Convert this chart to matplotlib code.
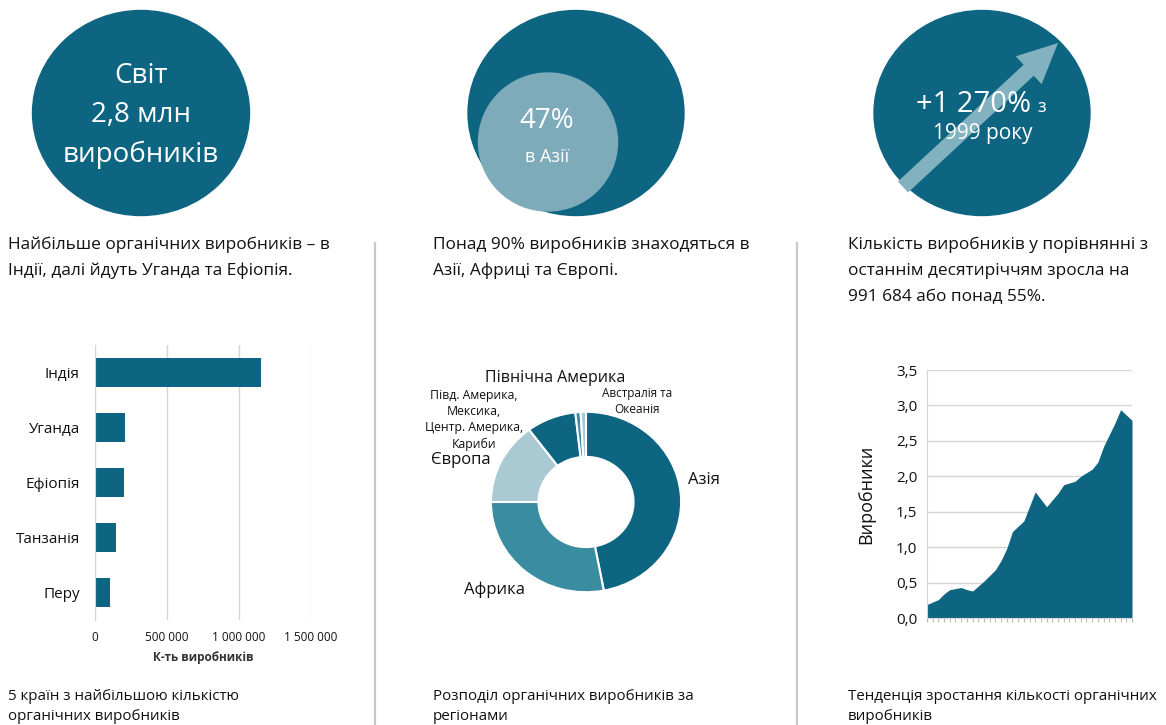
import matplotlib
matplotlib.use("Agg")
import matplotlib.pyplot as plt
from matplotlib.patches import Ellipse, FancyArrow
from matplotlib.ticker import FuncFormatter, MultipleLocator

plt.rcParams['font.family'] = ['Open Sans', 'DejaVu Sans']

W, H = 1166, 725

# ---- data ----
countries = ["Індія", "Уганда", "Ефіопія", "Танзанія", "Перу"]
producers = [1149371, 210352, 203602, 148610, 102000]
bar_ticks = [0, 500000, 1000000, 1500000]

regions = ["Азія", "Африка", "Європа",
           "Півд. Америка,\nМексика,\nЦентр. Америка,\nКариби",
           "Північна Америка", "Австралія та\nОкеанія"]
region_share = [47.0, 28.0, 14.8, 8.4, 0.9, 0.9]

trend_x = [0, 2, 3, 4, 6, 7, 8, 9, 10, 12, 13, 14, 15, 17, 19, 21, 23, 24, 26,
           27, 29, 30, 31, 33, 34, 36]
trend_y = [0.19, 0.26, 0.34, 0.40, 0.43, 0.40, 0.38, 0.45, 0.52, 0.68, 0.81,
           0.98, 1.22, 1.37, 1.78, 1.57, 1.76, 1.88, 1.93, 2.00, 2.10, 2.20,
           2.42, 2.75, 2.94, 2.79]

# ---- colours ----
TEAL = "#0e6581"
MID = "#3a8ca1"
LIGHT = "#a9c9d3"
ARROW = "#82b1bf"
INNER = "#7dabb9"
GRID = "#d6d6d6"
TXT = "#111111"

fig = plt.figure(figsize=(W / 100, H / 100), dpi=100)
fig.patch.set_facecolor("white")

# full-figure canvas in pixel units
bg = fig.add_axes([0, 0, 1, 1])
bg.set_xlim(0, W)
bg.set_ylim(H, 0)
bg.axis("off")


def px_axes(l, t, r, b):
    return fig.add_axes([l / W, 1 - b / H, (r - l) / W, (b - t) / H])


# ---- top circles ----
bg.add_patch(Ellipse((141, 113), 217, 205, color=TEAL))
bg.text(141, 76, "Світ", color="white", fontsize=20, ha="center", va="center")
bg.text(141, 115, "2,8 млн", color="white", fontsize=20, ha="center", va="center")
bg.text(141, 155, "виробників", color="white", fontsize=20, ha="center", va="center")

bg.add_patch(Ellipse((576, 113), 216, 205, color=TEAL))
bg.add_patch(Ellipse((548, 142), 139, 138, color=INNER))
bg.text(547, 121, "47%", color="white", fontsize=20, ha="center", va="center")
bg.text(547, 157, "в Азії", color="white", fontsize=13, ha="center", va="center")

bg.add_patch(Ellipse((982, 113), 216, 205, color=TEAL))
bg.add_patch(FancyArrow(903, 187, 155, -144, width=15, head_width=38,
                        head_length=40, length_includes_head=True,
                        color=ARROW, lw=0))
bg.text(1031, 112, "+1 270%", color="white", fontsize=21, ha="right", va="baseline")
bg.text(1037, 112, "з", color="white", fontsize=13, ha="left", va="baseline")
bg.text(983, 133, "1999 року", color="white", fontsize=15, ha="center", va="center")

# ---- captions ----
cap = dict(color=TXT, fontsize=12.4, ha="left", va="center")
bg.text(8, 245, "Найбільше органічних виробників – в", **cap)
bg.text(8, 271, "Індії, далі йдуть Уганда та Ефіопія.", **cap)
bg.text(433, 245, "Понад 90% виробників знаходяться в", **cap)
bg.text(433, 271, "Азії, Африці та Європі.", **cap)
bg.text(848, 245, "Кількість виробників у порівнянні з", **cap)
bg.text(848, 271, "останнім десятиріччям зросла на", **cap)
bg.text(848, 297, "991 684 або понад 55%.", **cap)

cap2 = dict(cap, fontsize=10.9)
bg.text(8, 697, "5 країн з найбільшою кількістю", **cap2)
bg.text(8, 716, "органічних виробників", **cap2)
bg.text(433, 697, "Розподіл органічних виробників за", **cap2)
bg.text(433, 716, "регіонами", **cap2)
bg.text(848, 697, "Тенденція зростання кількості органічних", **cap2)
bg.text(848, 716, "виробників", **cap2)

# column dividers
for x in (375, 797):
    bg.plot([x, x], [243, H], color="#c8c8c8", lw=1.6)

# ---- bar chart ----
ax1 = px_axes(95, 345, 311, 620)
ax1.barh(range(len(countries)), producers, height=0.53, color=TEAL)
ax1.set_ylim(len(countries) - 0.5, -0.5)
ax1.set_xlim(bar_ticks[0], bar_ticks[-1])
ax1.set_xticks(bar_ticks)
ax1.xaxis.set_major_formatter(FuncFormatter(lambda v, p: f"{int(v):,}".replace(",", " ")))
ax1.set_yticks(range(len(countries)))
ax1.set_yticklabels(countries, fontsize=11, color=TXT)
ax1.grid(axis="x", color=GRID, lw=1)
ax1.set_axisbelow(True)
for s in ("top", "right", "bottom"):
    ax1.spines[s].set_visible(False)
ax1.spines["left"].set_color(GRID)
ax1.tick_params(axis="both", length=0)
ax1.tick_params(axis="x", labelsize=8.5, pad=8, colors=TXT)
ax1.tick_params(axis="y", pad=11)
ax1.set_xlabel("К-ть виробників", fontsize=8.5, fontweight="bold", color="#333333", labelpad=5)

# ---- donut ----
ax2 = px_axes(489, 410, 683, 594)
ax2.pie(region_share, startangle=90, counterclock=False, radius=1,
        colors=[TEAL, MID, LIGHT, TEAL, MID, LIGHT],
        wedgeprops=dict(width=0.5, edgecolor="white", linewidth=1.5))
ax2.set_aspect("auto")
ax2.set_xlim(-1.02, 1.02)
ax2.set_ylim(-1.02, 1.02)

lab = dict(color=TXT)
bg.text(704, 480, regions[0], fontsize=12, ha="center", va="center", **lab)
bg.text(494, 590, regions[1], fontsize=12, ha="center", va="center", **lab)
bg.text(491, 460, regions[2], fontsize=12, ha="right", va="center", **lab)
bg.text(474, 420, regions[3], fontsize=8.8, ha="center", va="center",
        linespacing=1.3, **lab)
bg.text(555, 378, regions[4], fontsize=11.5, ha="center", va="center", **lab)
bg.text(637, 401, regions[5], fontsize=8.5, ha="center", va="center",
        linespacing=1.3, **lab)

# ---- area chart ----
ax3 = px_axes(927, 370, 1132, 618)
ax3.fill_between(trend_x, trend_y, 0, color=TEAL, lw=0)
ax3.set_xlim(0, 36)
ax3.set_ylim(0, 3.5)
ax3.yaxis.set_major_locator(MultipleLocator(0.5))
ax3.yaxis.set_major_formatter(FuncFormatter(lambda v, p: f"{v:.1f}".replace(".", ",")))
ax3.xaxis.set_major_locator(MultipleLocator(1))
ax3.set_xticklabels([])
ax3.grid(axis="y", color=GRID, lw=1)
ax3.set_axisbelow(True)
for s in ("top", "right"):
    ax3.spines[s].set_visible(False)
ax3.spines["left"].set_color(GRID)
ax3.spines["bottom"].set_color(GRID)
ax3.tick_params(axis="x", length=3, color="#bbbbbb")
ax3.tick_params(axis="y", length=0, labelsize=11, pad=7, colors=TXT)
ax3.set_ylabel("Виробники", fontsize=13, color=TXT, labelpad=15)

fig.savefig("out.png", dpi=100, facecolor="white")
